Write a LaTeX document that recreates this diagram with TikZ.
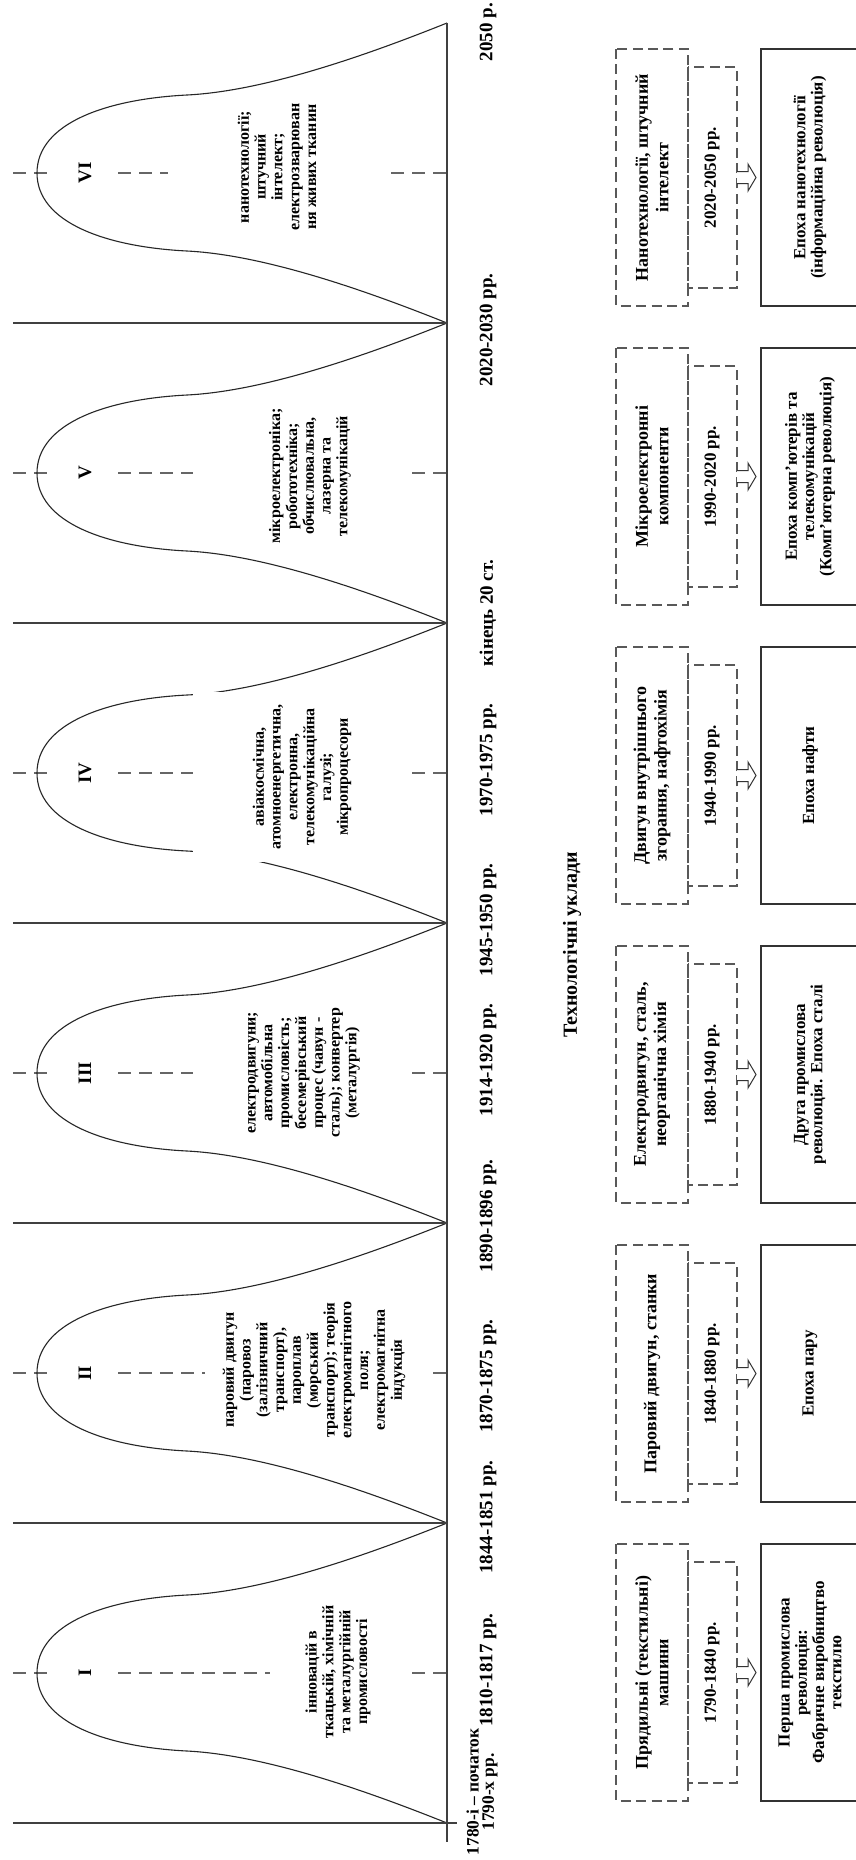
\documentclass[tikz,border=0pt]{standalone}
\usepackage{fontspec}
\setmainfont{Liberation Serif}
\begin{document}
\begin{tikzpicture}[x=0.5pt,y=-0.5pt,
  bell/.style={line width=0.55pt, draw=black!85},
  sepline/.style={line width=0.8pt, draw=black!75},
  cdash/.style={line width=0.7pt, draw=black!60, dash pattern=on 6.5pt off 4pt},
  btxt/.style={rotate=90, align=center, inner sep=0pt, font={\bfseries\fontsize{8}{8.4}\selectfont}},
  numtxt/.style={rotate=90, inner sep=0pt, font={\bfseries\fontsize{9.5}{10}\selectfont}},
  tl/.style={rotate=90, align=center, inner sep=0pt, font={\bfseries\fontsize{9.5}{7.8}\selectfont}},
  tlfirst/.style={rotate=90, align=center, inner sep=0pt, font={\bfseries\fontsize{8.7}{7.6}\selectfont}},
  dbox/.style={draw=black!65, dash pattern=on 5pt off 2.7pt, line width=0.6pt},
  ebox/.style={draw=black!80, line width=0.8pt},
  ctxt/.style={rotate=90, align=center, inner sep=0pt, font={\bfseries\fontsize{9}{10.2}\selectfont}},
  ytxt/.style={rotate=90, align=center, inner sep=0pt, font={\bfseries\fontsize{8.5}{9}\selectfont}},
  etxt/.style={rotate=90, align=center, inner sep=0pt, font={\bfseries\fontsize{8.5}{8.6}\selectfont}},
  harrow/.style={draw=black!80, line width=0.5pt, fill=white}
]
\useasboundingbox (0,0) rectangle (856,1860);
\clip (0,0) rectangle (856,1860);
\fill[white] (0,0) rectangle (856,1860);

% dashed centre lines
\foreach \yc in {1673,1373,1073,773,473,173}{
  \draw[cdash] (13,\yc) -- (447,\yc);
}
% bell curves
\foreach \yc in {1673,1373,1073,773,473,173}{
  \draw[bell] (447,\yc+150) .. controls (372,\yc+120) and (267,\yc+82) .. (187,\yc+78)
     .. controls (107,\yc+74) and (37,\yc+50) .. (37,\yc)
     .. controls (37,\yc-50) and (107,\yc-74) .. (187,\yc-78)
     .. controls (267,\yc-82) and (372,\yc-120) .. (447,\yc-150);
}
% separators and axis
\foreach \b in {1523,1223,923,623,323}{
  \draw[sepline] (13,\b) -- (447,\b);
}
\draw[sepline] (13,1823) -- (457,1823);
\draw[sepline] (447,23) -- (447,1842);

% white text areas
\fill[white] (270,1600) rectangle (410,1746);
\fill[white] (205,1297) rectangle (427,1448);
\fill[white] (193,1000) rectangle (410,1146);
\fill[white] (193,692) rectangle (410,862);
\fill[white] (193,400) rectangle (410,546);
\fill[white] (168,100) rectangle (387,246);
\foreach \yc in {1673,1373,1073,773,473,173}{
  \fill[white] (52,\yc-4) rectangle (117,\yc+4);
}

% roman numerals
\node[numtxt] (n1) at (85,1673) {I};
\node[numtxt] (n2) at (85,1373) {II};
\node[numtxt] (n3) at (85,1073) {III};
\node[numtxt] (n4) at (85,773) {IV};
\node[numtxt] (n5) at (85,473) {V};
\node[numtxt] (n6) at (85,173) {VI};

% bell texts
\node[btxt] (b1) at (338,1672) {інновацій в\\ткацькій, хімічній\\та металургійній\\промисловості};
\node[btxt] (b2) at (314,1370) {паровий двигун\\(паровоз\\(залізничний\\транспорт),\\пароплав\\(морський\\транспорт); теорія\\електромагнітного\\поля;\\електромагнітна\\індукція};
\node[btxt] (b3) at (304,1073) {електродвигуни;\\автомобільна\\промисловість;\\бесемерівський\\процес (чавун -\\сталь); конвертер\\(металургія)};
\node[btxt] (b4) at (302,777) {авіакосмічна,\\атомноенергетична,\\електронна,\\телекомунікаційна\\галузі;\\мікропроцесори};
\node[btxt] (b5) at (310,476) {мікроелектроніка;\\робототехніка;\\обчислювальна,\\лазерна та\\телекомунікацій};
\node[btxt] (b6) at (277,167) {нанотехнології;\\штучний\\інтелект;\\електрозварюван\\ня живих тканин};

% timeline labels
\node[tlfirst] (t0) at (482,1792) {1780-і – початок\\1790-х рр.};
\node[tl] (t1) at (488,1670) {1810-1817 рр.};
\node[tl] (t2) at (488,1517) {1844-1851 рр.};
\node[tl] (t3) at (488,1376) {1870-1875 рр.};
\node[tl] (t4) at (488,1216) {1890-1896 рр.};
\node[tl] (t5) at (488,1060) {1914-1920 рр.};
\node[tl] (t6) at (488,920) {1945-1950 рр.};
\node[tl] (t7) at (488,760) {1970-1975 рр.};
\node[tl] (t8) at (488,613) {кінець 20 ст.};
\node[tl] (t9) at (488,330) {2020-2030 рр.};
\node[tl] (t10) at (488,32) {2050 р.};

% title
\node[rotate=90, inner sep=0pt, font={\bfseries\fontsize{10}{12}\selectfont}] (title) at (572,945) {Технологічні уклади};

% columns
\foreach \k/\top/\tech/\yrs/\ep in {
  1/1544/{Прядильні (текстильні)\\машини}/{1790-1840 рр.}/{Перша промислова\\революція:\\Фабричне виробництво\\текстилю},
  2/1245/{Паровий двигун, станки}/{1840-1880 рр.}/{Епоха пару},
  3/946/{Електродвигун, сталь,\\неорганічна хімія}/{1880-1940 рр.}/{Друга промислова\\революція. Епоха сталі},
  4/647/{Двигун внутрішнього\\згорання, нафтохімія}/{1940-1990 рр.}/{Епоха нафти},
  5/348/{Мікроелектронні\\компоненти}/{1990-2020 рр.}/{Епоха комп'ютерів та\\телекомунікацій\\(Комп'ютерна революція)},
  6/49/{Нанотехнології, штучний\\інтелект}/{2020-2050 рр.}/{Епоха нанотехнології\\(інформаційна революція)}}{
  \draw[ebox] (900,\top) -- (761,\top) -- (761,\top+257) -- (900,\top+257);
  \draw[dbox] (616,\top) rectangle (688,\top+257);
  \draw[dbox] (688,\top+18) rectangle (737,\top+239);
  \draw[harrow] (737,\top+122.5) -- (748,\top+122.5) -- (748,\top+115) -- (756,\top+128.5)
     -- (748,\top+142) -- (748,\top+134.5) -- (737,\top+134.5);
  \node[ctxt] (c\k) at (652,\top+128.5) {\tech};
  \node[ytxt] (y\k) at (712,\top+128.5) {\yrs};
  \node[etxt] (e\k) at (810,\top+128.5) {\ep};
}
\end{tikzpicture}
\end{document}
